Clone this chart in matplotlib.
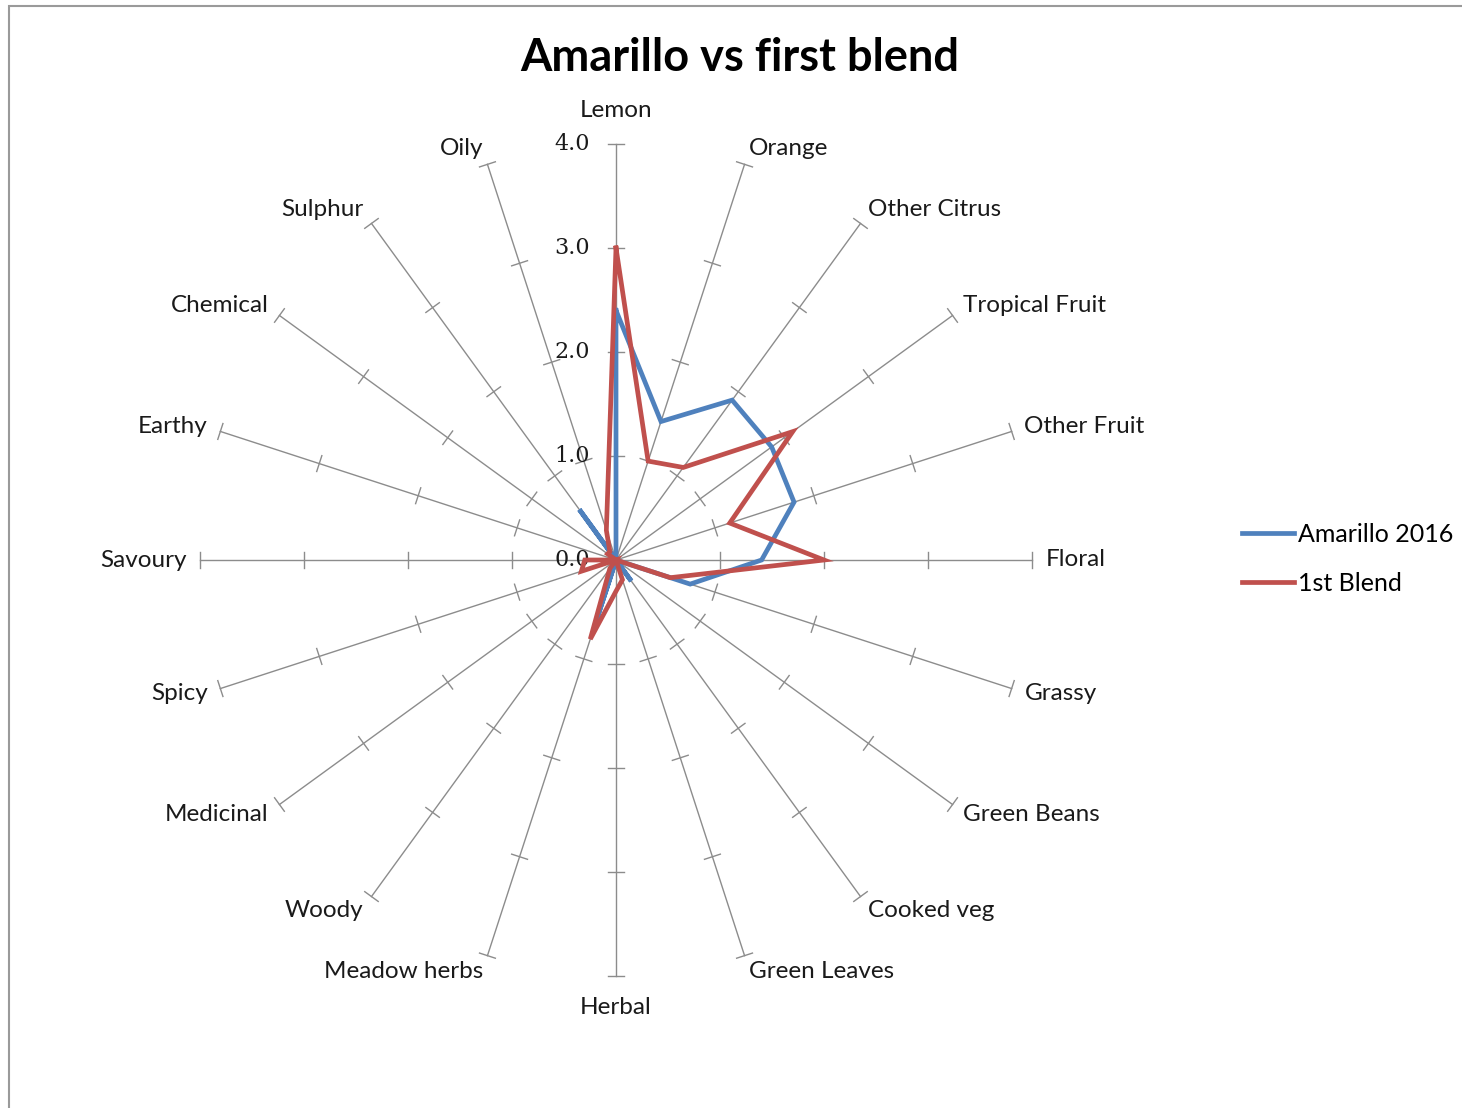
import numpy as np
import matplotlib
matplotlib.use('Agg')
import matplotlib.pyplot as plt
from matplotlib.patches import Rectangle

# categorias do radar, no sentido horario a partir do topo
categorias = ['Lemon', 'Orange', 'Other Citrus', 'Tropical Fruit', 'Other Fruit',
              'Floral', 'Grassy', 'Green Beans', 'Cooked veg', 'Green Leaves',
              'Herbal', 'Meadow herbs', 'Woody', 'Medicinal', 'Spicy',
              'Savoury', 'Earthy', 'Chemical', 'Sulphur', 'Oily']

amarillo_2016 = [2.4, 1.4, 1.9, 1.85, 1.8, 1.4, 0.75, 0.0, 0.25, 0.0,
                 0.0, 0.65, 0.0, 0.0, 0.0, 0.0, 0.0, 0.0, 0.6, 0.0]
primeiro_blend = [3.0, 1.0, 1.1, 2.1, 1.15, 2.0, 0.55, 0.0, 0.0, 0.2,
                  0.3, 0.8, 0.1, 0.0, 0.35, 0.3, 0.0, 0.1, 0.1, 0.3]

escala = [0.0, 1.0, 2.0, 3.0, 4.0]
rmax = 4.0

n = len(categorias)
ang = np.arange(n) * 2 * np.pi / n

def xy(r, a):
    return np.asarray(r) * np.sin(a), np.asarray(r) * np.cos(a)

fig = plt.figure(figsize=(14.62, 11.08), dpi=100)
ax = fig.add_axes([0, 0, 1, 1])
# 1 unidade = 104 px, centro em (616, 560)
ax.set_xlim(-616 / 104, (1462 - 616) / 104)
ax.set_ylim(-(1108 - 560) / 104, 560 / 104)
ax.axis('off')

# moldura cinza
ax.add_patch(Rectangle((-607 / 104, -700 / 104), 20, (554 + 700) / 104,
                       fill=False, ec='#9a9a9a', lw=1.5))

fonte = 'Lato'
cinza = '#8c8c8c'
tk = 0.08  # meia largura do tick

for i, a in enumerate(ang):
    x, y = xy([0, rmax], a)
    ax.plot(x, y, color=cinza, lw=1, zorder=1)
    # ticks cruzando o eixo
    px, py = np.cos(a), -np.sin(a)
    for v in escala[1:]:
        cx, cy = xy(v, a)
        ax.plot([cx - tk * px, cx + tk * px], [cy - tk * py, cy + tk * py],
                color=cinza, lw=1, zorder=1)
    # rotulo da categoria
    ex, ey = xy(rmax + 0.13, a)
    s, c = np.sin(a), np.cos(a)
    if abs(s) < 1e-6:
        ha = 'center'
    elif s > 0:
        ha = 'left'
    else:
        ha = 'right'
    if abs(s) < 1e-6:
        va = 'bottom' if c > 0 else 'top'
        ey = rmax + 0.22 if c > 0 else -rmax - 0.2
    else:
        va = 'center'
        ey = ey + 0.03 * c
    ax.text(ex, ey, categorias[i], ha=ha, va=va, fontsize=17.5,
            family=fonte, color='#1a1a1a')

for v in escala:
    ax.text(-0.25, v, f'{v:.1f}', ha='right', va='center', fontsize=16,
            family='DejaVu Serif', color='#1a1a1a')

for serie, cor, nome in [(amarillo_2016, '#4F81BD', 'Amarillo 2016'),
                         (primeiro_blend, '#C0504D', '1st Blend')]:
    r = serie + serie[:1]
    a = np.append(ang, ang[0])
    x, y = xy(r, a)
    ax.plot(x, y, color=cor, lw=3.4, label=nome, zorder=3,
            solid_joinstyle='miter')

ax.text(740 / 104 - 616 / 104, (560 - 58) / 104, 'Amarillo vs first blend',
        ha='center', va='center', fontsize=32.5, fontweight='bold', family=fonte)

fig.legend(loc='center left', bbox_to_anchor=(1219 / 1462, 1 - 559 / 1108),
           frameon=False, prop={'family': fonte, 'size': 18},
           handlelength=2.1, handletextpad=0.15, labelspacing=1.05)

fig.savefig('out.png', dpi=100)
